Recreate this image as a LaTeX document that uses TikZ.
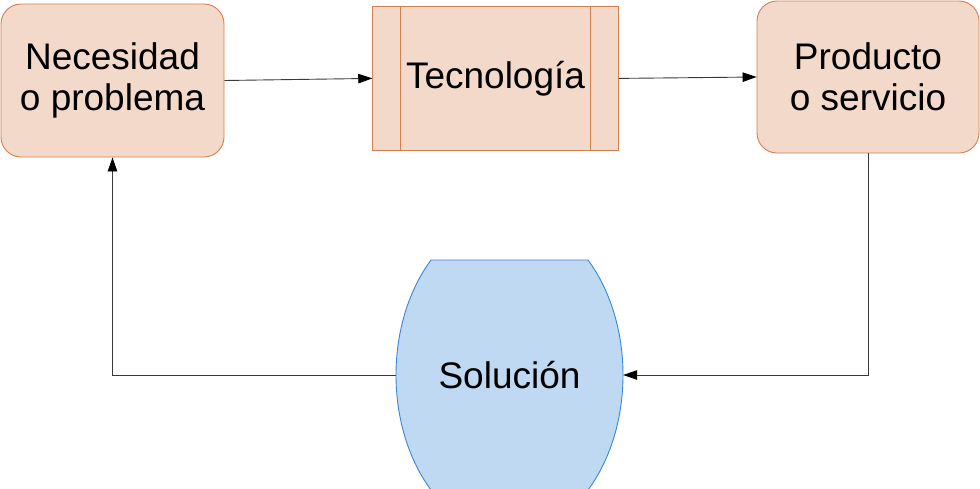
\documentclass[tikz,border=0pt]{standalone}
\usepackage{fontspec}
\setmainfont{Liberation Sans}
\usetikzlibrary{arrows.meta}
\definecolor{peachfill}{HTML}{F3D9CA}
\definecolor{peachline}{HTML}{D57F4E}
\definecolor{bluefill}{HTML}{BFD9F2}
\definecolor{blueline}{HTML}{3A86D6}
\definecolor{conn}{HTML}{3A3A3A}
\tikzset{
  lbl/.style={font=\fontsize{37}{40.5}\selectfont, align=center, text=black, inner sep=0pt},
  roundbox/.style={lbl, rectangle, rounded corners=20pt, draw=peachline, fill=peachfill, line width=0.9pt},
  procbox/.style={lbl, rectangle, draw=peachline, fill=peachfill, line width=0.9pt},
  solbox/.style={lbl, rectangle, minimum width=227pt, minimum height=230pt},
  arr/.style={draw=conn, line width=0.9pt, -{Triangle[length=14pt,width=9.5pt,color=black]}}
}
\begin{document}
\begin{tikzpicture}[x=1pt,y=-1pt]
\useasboundingbox (0,0) rectangle (980,488);
% Solucion shape
\draw[draw=blueline, fill=bluefill, line width=0.9pt]
  (431,260) -- (588,260)
  .. controls (610.3,290.1) and (623,331.6) .. (623,375)
  .. controls (623,418.4) and (610.3,459.9) .. (588,490)
  -- (431,490)
  .. controls (408.7,459.9) and (396,418.4) .. (396,375)
  .. controls (396,331.6) and (408.7,290.1) .. (431,260) -- cycle;
\node[solbox] (sol) at (509.5,375) {Solución};
\node[roundbox, minimum width=223pt, minimum height=153pt] (nec) at (112.5,80.5) {Necesidad\\o problema};
\node[procbox, minimum width=245.6pt, minimum height=144.7pt] (tec) at (495.5,78.4) {Tecnología};
\draw[peachline, line width=0.9pt] ([xshift=28.3pt]tec.north west) -- ([xshift=28.3pt]tec.south west);
\draw[peachline, line width=0.9pt] ([xshift=-28.3pt]tec.north east) -- ([xshift=-28.3pt]tec.south east);
\node[roundbox, minimum width=222pt, minimum height=152pt] (prod) at (868,77) {Producto\\o servicio};
\draw[arr] (nec.east) -- (tec.west);
\draw[arr] (tec.east) -- (prod.west);
\draw[arr] (prod.south) |- (sol.east);
\draw[arr] (sol.west) -| (nec.south);
\end{tikzpicture}
\end{document}
